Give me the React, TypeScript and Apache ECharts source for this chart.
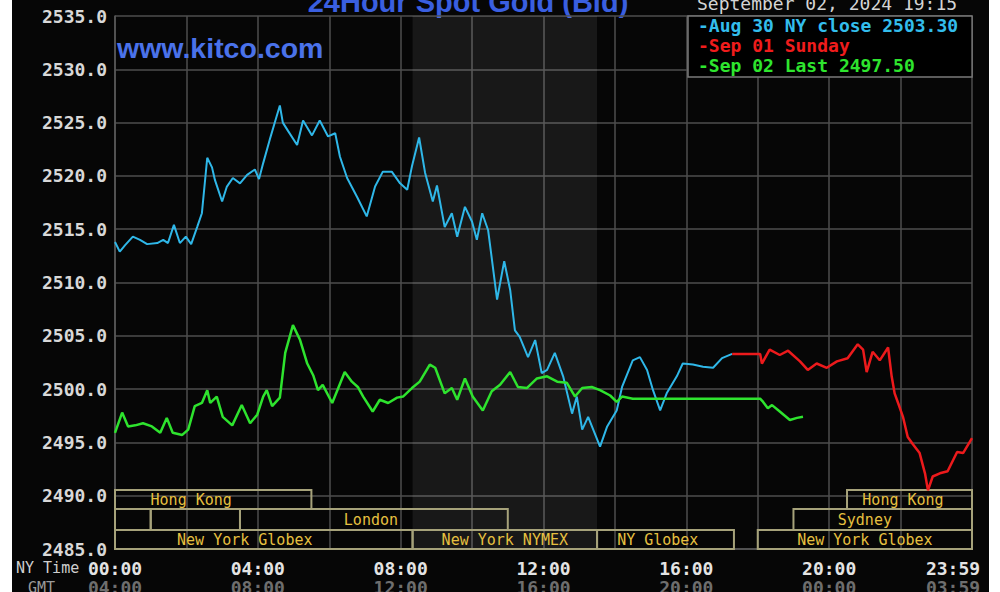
import React, { useEffect, useRef } from "react";
import * as echarts from "echarts";

// ---- data (NY time in minutes after midnight, price in USD) ----
const blueMinutes = [0, 8, 17, 30, 42, 54, 71, 81, 89, 99, 109, 119, 128, 138, 146, 155, 163, 168, 180, 188, 198, 210, 222, 235, 242, 249, 260, 269, 277, 282, 291, 306, 316, 331, 344, 358, 370, 378, 390, 407, 423, 437, 450, 465, 479, 491, 499, 511, 521, 534, 541, 554, 566, 575, 588, 600, 608, 617, 627, 642, 654, 664, 672, 680, 694, 706, 717, 726, 739, 753, 768, 776, 785, 795, 815, 827, 843, 852, 870, 882, 894, 904, 916, 927, 944, 954, 971, 988, 1005, 1020, 1037];
const bluePrices = [2513.8, 2512.9, 2513.5, 2514.3, 2514.0, 2513.6, 2513.7, 2514.0, 2513.7, 2515.4, 2513.7, 2514.3, 2513.6, 2515.2, 2516.5, 2521.7, 2520.8, 2519.6, 2517.6, 2519.0, 2519.8, 2519.3, 2520.1, 2520.6, 2519.7, 2521.2, 2523.4, 2525.1, 2526.6, 2525.0, 2524.2, 2522.9, 2525.2, 2523.8, 2525.2, 2523.7, 2524.0, 2521.8, 2519.8, 2518.0, 2516.2, 2519.0, 2520.4, 2520.4, 2519.3, 2518.7, 2520.9, 2523.6, 2520.3, 2517.6, 2519.1, 2515.2, 2516.5, 2514.3, 2517.1, 2515.7, 2514.0, 2516.5, 2514.9, 2508.4, 2512.0, 2509.3, 2505.5, 2504.9, 2503.0, 2504.6, 2501.5, 2501.8, 2503.4, 2501.2, 2497.7, 2499.3, 2496.2, 2497.4, 2494.6, 2496.5, 2498.0, 2500.2, 2502.7, 2503.0, 2501.8, 2499.9, 2498.0, 2499.6, 2501.2, 2502.4, 2502.3, 2502.1, 2502.0, 2502.9, 2503.3];

const redMinutes = [1037, 1084, 1087, 1100, 1117, 1131, 1151, 1164, 1179, 1196, 1213, 1231, 1248, 1257, 1263, 1273, 1285, 1299, 1305, 1310, 1319, 1324, 1332, 1341, 1352, 1361, 1366, 1374, 1386, 1399, 1415, 1425, 1440];
const redPrices = [2503.3, 2503.3, 2502.4, 2503.7, 2503.2, 2503.6, 2502.6, 2501.8, 2502.4, 2502.0, 2502.6, 2502.9, 2504.2, 2503.7, 2501.6, 2503.5, 2502.7, 2503.9, 2501.2, 2499.6, 2498.2, 2497.4, 2495.5, 2494.8, 2494.0, 2492.1, 2490.5, 2491.8, 2492.1, 2492.3, 2494.1, 2494.0, 2495.4];

const greenMinutes = [0, 12, 22, 34, 47, 62, 76, 87, 97, 113, 123, 134, 146, 155, 160, 171, 181, 197, 213, 227, 239, 249, 255, 264, 277, 286, 299, 311, 323, 333, 341, 349, 365, 386, 398, 408, 417, 433, 445, 459, 474, 484, 499, 512, 529, 538, 554, 566, 575, 588, 601, 618, 633, 647, 664, 677, 692, 709, 726, 743, 759, 773, 785, 801, 815, 832, 843, 852, 870, 1084, 1089, 1097, 1104, 1117, 1134, 1146, 1156];
const greenPrices = [2495.9, 2497.8, 2496.5, 2496.6, 2496.8, 2496.5, 2495.9, 2497.3, 2495.9, 2495.7, 2496.2, 2498.4, 2498.7, 2499.9, 2498.7, 2499.3, 2497.4, 2496.6, 2498.5, 2496.8, 2497.6, 2499.3, 2499.9, 2498.4, 2499.2, 2503.4, 2506.0, 2504.6, 2502.4, 2501.3, 2499.9, 2500.4, 2498.7, 2501.6, 2500.7, 2500.2, 2499.3, 2497.9, 2499.0, 2498.7, 2499.2, 2499.3, 2500.1, 2500.7, 2502.3, 2502.0, 2499.6, 2500.1, 2499.0, 2501.0, 2499.3, 2498.0, 2499.8, 2500.4, 2501.6, 2500.2, 2500.1, 2501.0, 2501.2, 2500.7, 2500.6, 2499.3, 2500.1, 2500.2, 2499.9, 2499.4, 2498.8, 2499.3, 2499.1, 2499.1, 2498.8, 2498.2, 2498.5, 2497.9, 2497.1, 2497.3, 2497.4];

const seriesNames = ["Aug 30 NY close 2503.30", "Sep 01 Sunday", "Sep 02 Last 2497.50"];

const TIME_LABELS = ["00:00", "04:00", "08:00", "12:00", "16:00", "20:00", "23:59"];
const GMT_LABELS = ["04:00", "08:00", "12:00", "16:00", "20:00", "00:00", "03:59"];

// NYMEX floor hours (shaded)
const nymexStart = 500;
const nymexEnd = 810;

// trading sessions: start, end, row (0 top), label, label anchor time
const sessionStart = [0, 1230, 0, 60, 210, 1140, 0, 500, 810, 1080];
const sessionEnd = [330, 1440, 60, 210, 660, 1440, 500, 810, 1040, 1440];
const sessionRow = [0, 0, 1, 1, 1, 1, 2, 2, 2, 2];
const sessionLabel = ["Hong Kong", "Hong Kong", "", "", "London", "Sydney", "New York Globex", "New York NYMEX", "NY Globex", "New York Globex"];
const sessionLabelAt = [128, 1324, 30, 135, 430, 1260, 218, 655, 912, 1260];

const Y_MIN = 2485;
const Y_MAX = 2535;

const MONO = "'DejaVu Sans Mono', 'Liberation Mono', monospace";

export default function App() {
  const ref = useRef<HTMLDivElement>(null);

  useEffect(() => {
    if (!ref.current) return;
    const chart = echarts.init(ref.current, undefined, { renderer: "svg" });

    const zip = (xs: number[], ys: number[]) => xs.map((x, i) => [x, ys[i]]);

    const rowTop = [59, 40, 19];
    const rowH = [19, 21, 19];

    const option: any = {
      animation: false,
      backgroundColor: "#060606",
      grid: { left: 103, right: 17, top: 16, bottom: 43, containLabel: false, outerBoundsMode: "none" },
      legend: {
        left: 676,
        top: 16,
        orient: "vertical",
        icon: "none",
        itemWidth: 0,
        itemHeight: 14,
        itemGap: 1,
        selectedMode: false,
        padding: [0, 14, 2, 5],
        backgroundColor: "#000",
        borderColor: "#7a7a7a",
        borderWidth: 1.5,
        formatter: (n: string) => "-" + n,
        textStyle: { fontFamily: MONO, fontSize: 18, fontWeight: "bold", lineHeight: 19 },
        data: [
          { name: seriesNames[0], textStyle: { color: "#33bdec" } },
          { name: seriesNames[1], textStyle: { color: "#f01c1c" } },
          { name: seriesNames[2], textStyle: { color: "#2ee52e" } },
        ],
      },
      xAxis: [
        {
          type: "value",
          min: 0,
          max: 1440,
          interval: 120,
          axisLine: { show: true, lineStyle: { color: "#5a5a5a", width: 1.5 } },
          axisTick: { show: false },
          splitLine: { show: true, lineStyle: { color: "#4e4e4e", width: 1.5 } },
          axisLabel: {
            margin: 10,
            color: "#e4e4e4",
            fontFamily: MONO,
            fontSize: 18,
            fontWeight: "bold",
            formatter: (v: number) => {
              if (v % 240 !== 0) return "";
              const i = v / 240;
              return i === 6 ? "{e|" + TIME_LABELS[i] + "}" : TIME_LABELS[i];
            },
            rich: {
              e: { padding: [0, 38, 0, 0], color: "#e4e4e4", fontFamily: MONO, fontSize: 18, fontWeight: "bold" },
            },
          },
        },
        {
          type: "value",
          min: 0,
          max: 1440,
          interval: 120,
          position: "bottom",
          offset: 19,
          axisLine: { show: false },
          axisTick: { show: false },
          splitLine: { show: false },
          axisLabel: {
            margin: 10,
            color: "#6e6e6e",
            fontFamily: MONO,
            fontSize: 18,
            fontWeight: "bold",
            formatter: (v: number) => {
              if (v % 240 !== 0) return "";
              const i = v / 240;
              return i === 6 ? "{e|" + GMT_LABELS[i] + "}" : GMT_LABELS[i];
            },
            rich: {
              e: { padding: [0, 38, 0, 0], color: "#6e6e6e", fontFamily: MONO, fontSize: 18, fontWeight: "bold" },
            },
          },
        },
      ],
      yAxis: {
        type: "value",
        min: Y_MIN,
        max: Y_MAX,
        interval: 5,
        axisLine: { show: true, lineStyle: { color: "#5a5a5a", width: 1.5 } },
        axisTick: { show: false },
        splitLine: { show: true, lineStyle: { color: "#4e4e4e", width: 1.5 } },
        axisLabel: {
          margin: 8,
          color: "#d8d8d8",
          fontFamily: MONO,
          fontSize: 18,
          fontWeight: "bold",
          formatter: (v: number) => v.toFixed(1),
        },
      },
      graphic: [
        {
          type: "text",
          x: 456,
          y: 2,
          style: {
            text: "24Hour Spot Gold (Bid)",
            fill: "#3a5fe0",
            font: "bold 29px 'Liberation Sans', Arial, sans-serif",
            align: "center",
            verticalAlign: "middle",
          },
        },
        {
          type: "text",
          x: 685,
          y: 3,
          style: {
            text: "September 02, 2024 19:15",
            fill: "#d4d4d4",
            font: "18px " + MONO,
            align: "left",
            verticalAlign: "middle",
          },
        },
        {
          type: "text",
          x: 105,
          y: 48,
          z: 10,
          style: {
            text: "www.kitco.com",
            fill: "#4a72ea",
            font: "bold 28.5px 'Liberation Sans', Arial, sans-serif",
            align: "left",
            verticalAlign: "middle",
          },
        },
        {
          type: "text",
          x: 4,
          y: 568,
          style: { text: "NY Time", fill: "#cfcfcf", font: "15px " + MONO, align: "left", verticalAlign: "middle" },
        },
        {
          type: "text",
          x: 16,
          y: 588,
          style: { text: "GMT", fill: "#9a9a9a", font: "15px " + MONO, align: "left", verticalAlign: "middle" },
        },
      ],
      series: [
        {
          type: "custom",
          silent: true,
          z: 1,
          encode: { x: [0, 1], y: 2 },
          data: sessionStart.map((s, i) => [s, sessionEnd[i], sessionRow[i], sessionLabelAt[i]]),
          renderItem: (params: any, api: any) => {
            const s = api.value(0);
            const e = api.value(1);
            const row = api.value(2);
            const at = api.value(3);
            const p0 = api.coord([s, Y_MIN]);
            const p1 = api.coord([e, Y_MIN]);
            const pa = api.coord([at, Y_MIN]);
            const bottom = p0[1];
            const top = bottom - rowTop[row];
            const h = rowH[row];
            const label = sessionLabel[params.dataIndex];
            const children: any[] = [
              {
                type: "rect",
                shape: { x: p0[0], y: top, width: p1[0] - p0[0], height: h },
                style: { fill: "none", stroke: "#a6a27a", lineWidth: 2 },
              },
            ];
            if (label) {
              children.push({
                type: "text",
                x: pa[0],
                y: top + h / 2 + 0.5,
                style: {
                  text: label,
                  fill: "#e6c040",
                  font: "15px " + MONO,
                  align: "center",
                  verticalAlign: "middle",
                },
              });
            }
            return { type: "group", children };
          },
        },
        {
          name: seriesNames[0],
          type: "line",
          z: 3,
          showSymbol: false,
          data: zip(blueMinutes, bluePrices),
          lineStyle: { color: "#2fb7e8", width: 2 },
          itemStyle: { color: "#2fb7e8" },
          markArea: {
            silent: true,
            itemStyle: { color: "rgba(255,255,255,0.075)" },
            data: [[{ xAxis: nymexStart }, { xAxis: nymexEnd }]],
          },
        },
        {
          name: seriesNames[1],
          type: "line",
          z: 3,
          showSymbol: false,
          data: zip(redMinutes, redPrices),
          lineStyle: { color: "#ec1a1c", width: 2.5 },
          itemStyle: { color: "#ec1a1c" },
        },
        {
          name: seriesNames[2],
          type: "line",
          z: 4,
          showSymbol: false,
          data: zip(greenMinutes, greenPrices),
          lineStyle: { color: "#2ee32e", width: 2.5 },
          itemStyle: { color: "#2ee32e" },
        },
      ],
    };

    chart.setOption(option);
    return () => chart.dispose();
  }, []);

  return (
    <div style={{ position: "fixed", left: 0, top: 0, width: 1000, height: 592, background: "#ffffff", overflow: "hidden" }}>
      <div ref={ref} style={{ position: "absolute", left: 12, top: 0, width: 977, height: 592 }} />
    </div>
  );
}
